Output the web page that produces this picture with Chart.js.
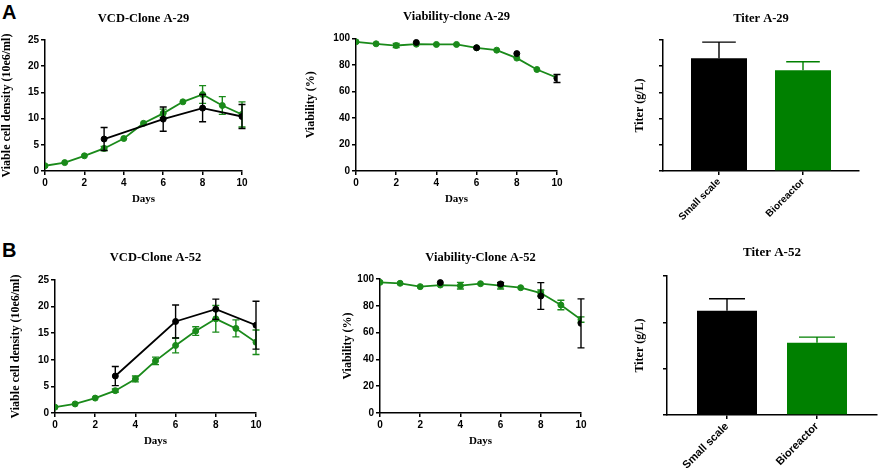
<!DOCTYPE html>
<html lang="en">
<head>
    <meta charset="UTF-8">
    <title>VCD, viability and titer - clones A-29 / A-52</title>
    <script src="https://cdn.jsdelivr.net/npm/chart.js@4.4.0/dist/chart.umd.min.js"></script>
    <style>
        body {
            margin: 0;
            background: #fff;
            width: 879px;
            height: 470px;
            position: relative;
            overflow: hidden;
            font-family: "Liberation Sans", Arial, sans-serif;
        }
        canvas {
            position: absolute;
        }
        /* panel letters */
        .tag {
            position: absolute;
            font-weight: bold;
            font-size: 20px;
            line-height: 1;
            color: #000;
        }
    </style>
</head>
<body>
    <div class="tag" style="left:2px; top:2px;">A</div>
    <div class="tag" style="left:2px; top:240px;">B</div>

    <canvas id="vcdA" width="262" height="210" style="left:0; top:0;"></canvas>
    <canvas id="viaA" width="279" height="210" style="left:300px; top:0;"></canvas>
    <canvas id="titerA" width="259" height="230" style="left:620px; top:0;"></canvas>

    <canvas id="vcdB" width="270" height="222" style="left:0; top:230px;"></canvas>
    <canvas id="viaB" width="300" height="222" style="left:300px; top:230px;"></canvas>
    <canvas id="titerB" width="259" height="240" style="left:620px; top:230px;"></canvas>

    <script>
        // ---- data ----
        const days = [0, 1, 2, 3, 4, 5, 6, 7, 8, 9, 10];
        const sampleDays = [3, 6, 8, 10];          // small scale samples
        const titerLabels = ['Small scale', 'Bioreactor'];

        // Clone A-29
        const vcdA29Bio = [1.0, 1.6, 2.9, 4.3, 6.2, 9.1, 11.0, 13.2, 14.6, 12.5, 10.8];
        const vcdA29BioSd = [0, 0, 0, 0.4, 0, 0, 0.8, 0, 1.7, 1.7, 2.4];
        const vcdA29Small = [6.1, 9.9, 12.0, 10.4];
        const vcdA29SmallSd = [2.2, 2.3, 2.6, 2.3];

        const viaA29Bio = [97.5, 96.0, 94.7, 95.7, 95.5, 95.5, 93.0, 91.2, 85.2, 76.6, 70.4];
        const viaA29BioSd = [0, 0, 1.5, 0, 0, 0, 0, 0, 0, 0, 0];
        const viaA29Small = [97.0, 93.0, 88.6, 69.8];
        const viaA29SmallSd = [0, 0, 0, 3.0];

        const titerA29 = [4.3, 3.85];
        const titerA29Sd = [0.62, 0.32];

        // Clone A-52
        const vcdA52Bio = [1.1, 1.7, 2.8, 4.2, 6.4, 9.8, 12.7, 15.4, 17.7, 15.9, 13.3];
        const vcdA52BioSd = [0, 0, 0, 0.3, 0.55, 0.7, 1.4, 0.8, 2.5, 1.6, 2.3];
        const vcdA52Small = [6.95, 17.2, 19.5, 16.5];
        const vcdA52SmallSd = [1.8, 3.1, 1.9, 4.5];

        const viaA52Bio = [97.5, 96.8, 94.3, 95.5, 95.0, 96.5, 95.0, 93.5, 89.5, 80.6, 69.7];
        const viaA52BioSd = [0, 0, 0, 0, 2.5, 0, 2.5, 0, 2.3, 3.5, 2.0];
        const viaA52Small = [97.3, 96.3, 87.3, 66.9];
        const viaA52SmallSd = [0, 1.0, 10.0, 18.3];

        const titerA52 = [2.25, 1.56];
        const titerA52Sd = [0.26, 0.12];

        // ---- styles ----
        const BLACK = '#000000';
        const GREEN = '#1a8a1a';
        const BAR_GREEN = '#008000';
        const tickFont = { family: 'Liberation Sans', weight: 'bold', size: 10 };
        const serif = size => ({ family: 'Liberation Serif', weight: 'bold', size: size });

        // error bars drawn just before each dataset, so the dots sit on top
        const errorBars = {
            id: 'errorBars',
            beforeDatasetDraw(chart, args) {
                const ds = chart.data.datasets[args.index];
                if (!ds.errors) return;
                const y = chart.scales.y;
                const ctx = chart.ctx;
                ctx.save();
                ctx.lineWidth = 1.4;
                args.meta.data.forEach((el, i) => {
                    const e = ds.errors[i];
                    if (!e) return;
                    const v = ds.data[i].y;
                    const top = y.getPixelForValue(v + e);
                    const bot = ds.upOnly ? y.getPixelForValue(v) : y.getPixelForValue(v - e);
                    const half = el.width ? el.width * 0.3 : 3.5;
                    ctx.strokeStyle = Array.isArray(ds.errColor) ? ds.errColor[i] : ds.errColor;
                    ctx.beginPath();
                    ctx.moveTo(el.x, top);
                    ctx.lineTo(el.x, bot);
                    ctx.moveTo(el.x - half, top);
                    ctx.lineTo(el.x + half, top);
                    if (!ds.upOnly) {
                        ctx.moveTo(el.x - half, bot);
                        ctx.lineTo(el.x + half, bot);
                    }
                    ctx.stroke();
                });
                ctx.restore();
            }
        };

        function points(xs, ys) {
            return xs.map((x, i) => ({ x: x, y: ys[i] }));
        }

        function series(xs, ys, sd, color, showLine) {
            return {
                data: points(xs, ys),
                errors: sd,
                errColor: color,
                borderColor: color,
                backgroundColor: color,
                pointBackgroundColor: color,
                pointBorderColor: color,
                pointRadius: 3,
                pointBorderWidth: 1,
                borderWidth: 1.8,
                showLine: showLine,
                tension: 0
            };
        }

        // p = layout numbers for one panel
        function lineChart(id, p) {
            new Chart(document.getElementById(id), {
                type: 'line',
                data: { datasets: p.datasets },
                plugins: [errorBars],
                options: {
                    responsive: false,
                    animation: false,
                    layout: { padding: { left: 0, right: p.right, top: 0, bottom: 0 } },
                    plugins: {
                        legend: { display: false },
                        tooltip: { enabled: false },
                        title: {
                            display: true, text: p.title, fullSize: false, color: BLACK,
                            font: serif(12.5), padding: { top: p.titleTop, bottom: p.titleBottom }
                        }
                    },
                    scales: {
                        x: {
                            type: 'linear', min: 0, max: 10,
                            ticks: { stepSize: 2, color: BLACK, padding: 2, font: tickFont },
                            grid: { drawOnChartArea: false, color: BLACK, lineWidth: 1.5, tickLength: 4 },
                            border: { color: BLACK, width: 1.5 },
                            title: { display: true, text: 'Days', color: BLACK, font: serif(11), padding: { top: 0, bottom: 4.4 } },
                            afterFit: s => { s.height = p.xHeight; }
                        },
                        y: {
                            min: 0, max: p.yMax,
                            ticks: { stepSize: p.yStep, color: BLACK, padding: 2, font: tickFont },
                            grid: { drawOnChartArea: false, color: BLACK, lineWidth: 1.5, tickLength: 4 },
                            border: { color: BLACK, width: 1.5 },
                            title: { display: true, text: p.yTitle, color: BLACK, font: serif(12), padding: { top: p.yTitlePad, bottom: 0 } },
                            afterFit: s => { s.width = p.yWidth; }
                        }
                    }
                }
            });
        }

        function titerChart(id, p) {
            new Chart(document.getElementById(id), {
                type: 'bar',
                data: {
                    datasets: [{
                        data: points([0, 1], p.values),
                        errors: p.sd,
                        errColor: [BLACK, BAR_GREEN],
                        upOnly: true,
                        backgroundColor: [BLACK, BAR_GREEN],
                        borderWidth: 0,
                        categoryPercentage: 1,
                        barPercentage: 2 / 3
                    }]
                },
                plugins: [errorBars],
                options: {
                    responsive: false,
                    animation: false,
                    layout: { padding: { left: 0, right: p.right, top: 0, bottom: 0 } },
                    plugins: {
                        legend: { display: false },
                        tooltip: { enabled: false },
                        title: {
                            display: true, text: p.title, fullSize: false, color: BLACK,
                            font: serif(p.titleSize), padding: { top: p.titleTop, bottom: p.titleBottom }
                        }
                    },
                    scales: {
                        x: {
                            type: 'linear', min: -2 / 3, max: 5 / 3, offset: false,
                            afterBuildTicks: s => { s.ticks = s.ticks.filter(t => Number.isInteger(t.value)); },
                            ticks: {
                                stepSize: 1, color: BLACK, padding: 1, minRotation: 45, maxRotation: 45,
                                font: { family: 'Liberation Sans', weight: 'bold', size: p.labelSize },
                                callback: v => titerLabels[v]
                            },
                            grid: { offset: false, drawOnChartArea: false, color: BLACK, lineWidth: 1.5, tickLength: 4 },
                            border: { color: BLACK, width: 1.5 },
                            afterFit: s => { s.height = p.xHeight; }
                        },
                        y: {
                            min: 0, max: p.yMax,
                            ticks: { stepSize: 1, callback: () => '' },
                            grid: { drawOnChartArea: false, color: BLACK, lineWidth: 1.5, tickLength: 4 },
                            border: { color: BLACK, width: 1.5 },
                            title: { display: true, text: 'Titer (g/L)', color: BLACK, font: serif(12), padding: { top: 12.8, bottom: 0 } },
                            afterFit: s => { s.width = p.yWidth; }
                        }
                    }
                }
            });
        }

        // ---- row A : clone A-29 ----
        lineChart('vcdA', {
            title: 'VCD-Clone A-29', titleTop: 11.5, titleBottom: 13.5,
            yTitle: 'Viable cell density (10e6/ml)', yTitlePad: 0,
            yMax: 25, yStep: 5, yWidth: 45, xHeight: 39, right: 20,
            datasets: [
                series(sampleDays, vcdA29Small, vcdA29SmallSd, BLACK, true),
                series(days, vcdA29Bio, vcdA29BioSd, GREEN, true)
            ]
        });

        lineChart('viaA', {
            title: 'Viability-clone A-29', titleTop: 9.5, titleBottom: 14,
            yTitle: 'Viability (%)', yTitlePad: 3.8,
            yMax: 100, yStep: 20, yWidth: 56, xHeight: 39, right: 22,
            datasets: [
                series(sampleDays, viaA29Small, viaA29SmallSd, BLACK, false),
                series(days, viaA29Bio, viaA29BioSd, GREEN, true)
            ]
        });

        titerChart('titerA', {
            title: 'Titer A-29', titleSize: 12.5, titleTop: 11.5, titleBottom: 13.5,
            values: titerA29, sd: titerA29Sd, yMax: 5,
            yWidth: 43, xHeight: 59, right: 20, labelSize: 10
        });

        // ---- row B : clone A-52 ----
        lineChart('vcdB', {
            title: 'VCD-Clone A-52', titleTop: 20.5, titleBottom: 14.5,
            yTitle: 'Viable cell density (10e6/ml)', yTitlePad: 8.3,
            yMax: 25, yStep: 5, yWidth: 55, xHeight: 39, right: 14,
            datasets: [
                series(sampleDays, vcdA52Small, vcdA52SmallSd, BLACK, true),
                series(days, vcdA52Bio, vcdA52BioSd, GREEN, true)
            ]
        });

        lineChart('viaB', {
            title: 'Viability-Clone A-52', titleTop: 20.5, titleBottom: 13.5,
            yTitle: 'Viability (%)', yTitlePad: 40.8,
            yMax: 100, yStep: 20, yWidth: 80, xHeight: 39, right: 19,
            datasets: [
                series(sampleDays, viaA52Small, viaA52SmallSd, BLACK, false),
                series(days, viaA52Bio, viaA52BioSd, GREEN, true)
            ]
        });

        titerChart('titerB', {
            title: 'Titer A-52', titleSize: 13, titleTop: 15.2, titleBottom: 15.2,
            values: titerA52, sd: titerA52Sd, yMax: 3,
            yWidth: 47, xHeight: 55, right: 2, labelSize: 11
        });
    </script>
</body>
</html>
